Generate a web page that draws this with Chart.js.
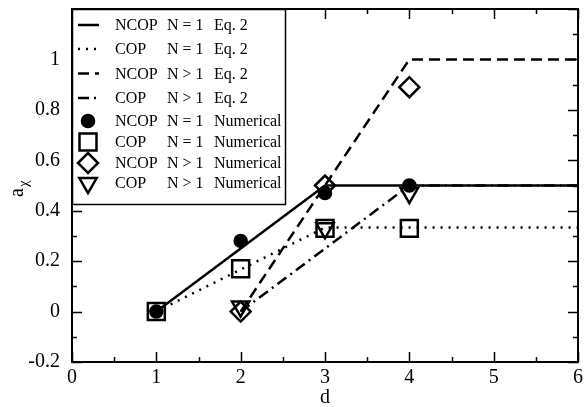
<!DOCTYPE html>
<html>
<head>
<meta charset="utf-8">
<script src="https://cdn.jsdelivr.net/npm/chart.js@4"></script>
<style>
  html, body { margin: 0; padding: 0; background: #fff; }
  #wrap { width: 584px; height: 407px; }
</style>
</head>
<body>
<div id="wrap"><canvas id="chart" width="584" height="407"></canvas></div>
<script>
// === Data ===
const eqX_N1 = [1, 3, 6];
const ncopN1Eq = [0, 0.5, 0.5];
const copN1Eq = [0, 1 / 3, 1 / 3];
const eqX_Nbig = [2, 4, 6];
const ncopNbigEq = [0, 1, 1];
const copNbigEq = [0, 0.5, 0.5];

const numX_N1 = [1, 2, 3, 4];
const ncopN1Num = [0, 0.28, 0.47, 0.5];
const copN1Num = [0, 0.17, 0.33, 0.33];
const numX_Nbig = [2, 3, 4];
const ncopNbigNum = [0, 0.5, 0.89];
const copNbigNum = [0.02, 0.33, 0.47];

const legendModel = ["NCOP", "COP", "NCOP", "COP", "NCOP", "COP", "NCOP", "COP"];
const legendN = ["N = 1", "N = 1", "N > 1", "N > 1", "N = 1", "N = 1", "N > 1", "N > 1"];
const legendMethod = ["Eq. 2", "Eq. 2", "Eq. 2", "Eq. 2", "Numerical", "Numerical", "Numerical", "Numerical"];

const xTicks = [0, 1, 2, 3, 4, 5, 6];

const pts = (xs, ys) => xs.map((x, i) => ({ x: x, y: ys[i] }));
const FONT = "'Liberation Serif', 'DejaVu Serif', serif";

function lineSet(xs, ys, dash) {
  return {
    data: pts(xs, ys),
    showLine: true,
    borderColor: "#000",
    borderWidth: 2.5,
    borderDash: dash,
    pointRadius: 0,
    fill: false,
    tension: 0,
  };
}
function markSet(xs, ys, style, r, filled, rot) {
  return {
    data: pts(xs, ys),
    showLine: false,
    pointStyle: style,
    pointRadius: r,
    pointRotation: rot || 0,
    pointBorderWidth: 2.5,
    pointBorderColor: "#000",
    borderColor: "#000",
    pointBackgroundColor: filled ? "#000" : "rgba(0,0,0,0)",
    backgroundColor: filled ? "#000" : "rgba(0,0,0,0)",
    pointHoverRadius: r,
  };
}

const datasets = [
  lineSet(eqX_N1, ncopN1Eq, []),
  lineSet(eqX_N1, copN1Eq, [2, 6]),
  lineSet(eqX_Nbig, ncopNbigEq, [11, 6]),
  lineSet(eqX_Nbig, copNbigEq, [11, 5, 2, 5]),
  markSet(numX_N1, ncopN1Num, "circle", 6, true),
  markSet(numX_N1, copN1Num, "rect", 12, false),
  markSet(numX_Nbig, ncopNbigNum, "rectRot", 10, false),
  markSet(numX_Nbig, copNbigNum, "triangle", 10, false, 180),
];
datasets.forEach((d, i) => {
  d.label = legendModel[i] + " " + legendN[i] + " " + legendMethod[i];
  d.order = 10 - i;
});

// === Frame, inward ticks, axis titles, legend ===
const framePlugin = {
  id: "frame",
  afterDraw(chart) {
    const ctx = chart.ctx;
    const a = chart.chartArea;
    const xs = chart.scales.x, ys = chart.scales.y;
    ctx.save();
    ctx.strokeStyle = "#000";
    ctx.lineWidth = 2;
    ctx.setLineDash([]);
    ctx.strokeRect(a.left, a.top, a.right - a.left, a.bottom - a.top);

    ctx.lineWidth = 1.5;
    ctx.beginPath();
    for (let v = 0; v <= 6.001; v += 0.5) {
      const px = Math.round(xs.getPixelForValue(v)) + 0.5;
      const len = Math.abs(v - Math.round(v)) < 0.01 ? 10 : 5;
      ctx.moveTo(px, a.bottom); ctx.lineTo(px, a.bottom - len);
      ctx.moveTo(px, a.top); ctx.lineTo(px, a.top + len);
    }
    for (let k = -2; k <= 12; k++) {
      const v = k / 10;
      const py = Math.round(ys.getPixelForValue(v)) + 0.5;
      const len = k % 2 === 0 ? 10 : 5;
      ctx.moveTo(a.left, py); ctx.lineTo(a.left + len, py);
      ctx.moveTo(a.right, py); ctx.lineTo(a.right - len, py);
    }
    ctx.stroke();

    // axis titles
    ctx.fillStyle = "#000";
    ctx.font = "20px " + FONT;
    ctx.textAlign = "center";
    ctx.textBaseline = "alphabetic";
    ctx.fillText("d", (a.left + a.right) / 2, 403);
    ctx.save();
    ctx.translate(23, 197);
    ctx.rotate(-Math.PI / 2);
    ctx.textAlign = "left";
    ctx.fillText("a", 0, 0);
    ctx.font = "15px " + FONT;
    ctx.fillText("\u03c7", 10, 5);
    ctx.restore();

    // legend
    const lx = a.left, ly = a.top, lw = 213, lh = 195;
    ctx.fillStyle = "#fff";
    ctx.fillRect(lx, ly, lw, lh);
    ctx.lineWidth = 1.5;
    ctx.strokeStyle = "#000";
    ctx.strokeRect(lx + 0.5, ly + 0.5, lw, lh);
    const rows = [25, 49, 73.5, 98, 121, 142, 163, 183];
    datasets.forEach((d, i) => {
      const y = rows[i];
      ctx.save();
      if (d.showLine) {
        ctx.strokeStyle = "#000";
        ctx.lineWidth = d.borderWidth;
        ctx.setLineDash(d.borderDash);
        ctx.beginPath();
        ctx.moveTo(78, y); ctx.lineTo(99, y);
        ctx.stroke();
      } else {
        ctx.setLineDash([]);
        ctx.strokeStyle = "#000";
        ctx.fillStyle = d.pointBackgroundColor;
        ctx.lineWidth = d.pointBorderWidth;
        Chart.helpers.drawPoint(ctx, {
          pointStyle: d.pointStyle,
          radius: d.pointRadius,
          rotation: d.pointRotation,
          borderWidth: d.pointBorderWidth,
        }, 88, y);
      }
      ctx.restore();
      ctx.fillStyle = "#000";
      ctx.font = "16px " + FONT;
      ctx.textAlign = "left";
      ctx.textBaseline = "middle";
      ctx.fillText(legendModel[i], 115, y + 1);
      ctx.fillText(legendN[i], 167, y + 1);
      ctx.fillText(legendMethod[i], 214, y + 1);
    });
    ctx.restore();
  },
};

new Chart(document.getElementById("chart").getContext("2d"), {
  type: "scatter",
  data: { datasets: datasets },
  plugins: [framePlugin],
  options: {
    responsive: false,
    animation: false,
    events: [],
    layout: { autoPadding: false, padding: { left: 0, right: 6, top: 9, bottom: 0 } },
    plugins: { legend: { display: false }, tooltip: { enabled: false } },
    scales: {
      x: {
        type: "linear",
        min: 0,
        max: 6,
        afterFit: (s) => { s.height = 45; s.paddingLeft = 0; s.paddingRight = 0; },
        afterBuildTicks: (s) => { s.ticks = xTicks.map((v) => ({ value: v })); },
        grid: { display: false },
        border: { display: false },
        ticks: { color: "#000", font: { family: FONT, size: 20 }, padding: -4, maxRotation: 0 },
      },
      y: {
        type: "linear",
        min: -0.2,
        max: 1.2,
        afterFit: (s) => { s.width = 72; s.paddingTop = 0; s.paddingBottom = 0; },
        grid: { display: false },
        border: { display: false },
        ticks: {
          stepSize: 0.2,
          color: "#000",
          font: { family: FONT, size: 20 },
          padding: 4,
          callback: (v) => (v > 1.1 ? "" : String(Math.round(v * 10) / 10)),
        },
      },
    },
  },
});
</script>
</body>
</html>
